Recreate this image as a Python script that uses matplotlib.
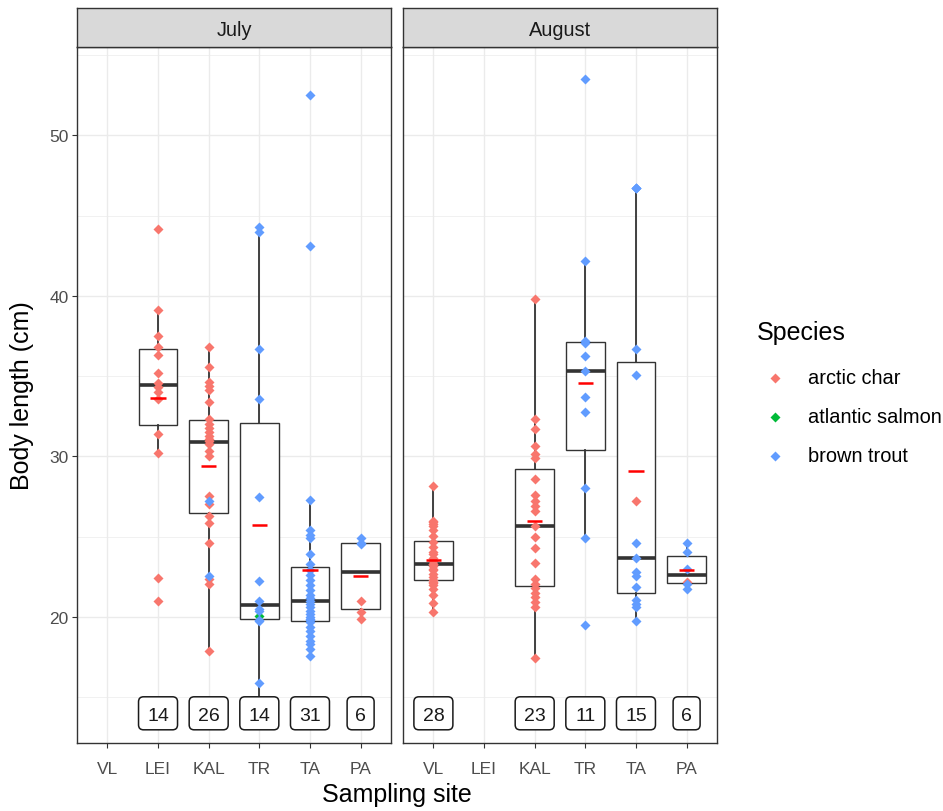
import numpy as np
import matplotlib
matplotlib.use("Agg")
import matplotlib.pyplot as plt
from matplotlib import cbook
from matplotlib import transforms as mtransforms
from matplotlib.patches import FancyBboxPatch
from matplotlib.lines import Line2D
from matplotlib.ticker import MultipleLocator

plt.rcParams['font.family'] = ['Liberation Sans', 'DejaVu Sans']

sites = ["VL", "LEI", "KAL", "TR", "TA", "PA"]
months = ["July", "August"]
species = ["arctic char", "atlantic salmon", "brown trout"]
species_colors = ["#F8766D", "#00BA38", "#619CFF"]

# Body length (cm) of individual fish, by month, site and species
jul_lei_char = [44.2, 39.1, 37.5, 36.8, 36.3, 35.2, 34.6, 34.3, 34.0, 33.6,
                31.4, 30.2, 22.4, 21.0]
jul_kal_char = [36.8, 35.56, 34.62, 34.37, 34.14, 33.42, 32.34, 32.03, 31.76,
                31.5, 31.26, 31.1, 30.95, 30.8, 30.36, 30.05, 27.56, 27.04,
                26.3, 25.86, 24.61, 22.37, 22.06, 17.9]
jul_kal_trout = [27.25, 22.54]
jul_tr_salmon = [20.05]
jul_tr_trout = [44.3, 44.0, 36.7, 33.6, 27.46, 22.26, 21.0, 20.5, 20.4, 19.8,
                19.75, 15.9, 14.1]
jul_ta_trout = [52.5, 43.1, 27.3, 25.4, 25.1, 24.9, 23.9, 23.3, 22.9, 22.6,
                22.3, 22.0, 21.7, 21.4, 21.2, 21.0, 20.8, 20.6, 20.4, 20.2,
                20.0, 19.9, 19.8, 19.7, 19.4, 19.1, 18.8, 18.5, 18.3, 18.0, 17.6]
jul_pa_char = [21.0, 20.3, 19.9]
jul_pa_trout = [24.9, 24.62, 24.56]

aug_vl_char = [28.18, 26.0, 25.94, 25.8, 25.7, 25.4, 25.07, 24.65, 24.34,
               24.03, 23.9, 23.7, 23.5, 23.3, 23.3, 23.2, 23.0, 22.9, 22.7,
               22.5, 22.3, 22.2, 22.1, 22.0, 21.74, 21.4, 20.9, 20.3]
aug_kal_char = [39.81, 32.34, 31.7, 30.67, 30.16, 29.9, 28.6, 27.6, 27.25,
                26.94, 26.62, 25.65, 24.97, 24.3, 23.35, 22.37, 22.06, 21.79,
                21.5, 21.23, 20.92, 20.6, 17.43]
aug_tr_trout = [53.5, 42.2, 37.2, 37.1, 36.28, 35.35, 33.7, 32.8, 28.04,
                24.9, 19.5]
aug_ta_char = [27.25]
aug_ta_trout = [46.7, 46.7, 46.7, 36.7, 35.1, 24.6, 23.7, 22.78, 22.53, 21.85,
                21.08, 20.8, 20.6, 19.77]
aug_pa_char = [22.2]
aug_pa_trout = [24.6, 24.07, 23.0, 22.06, 21.74]

# (month, site) -> {species: values}
groups = {
    ("July", "LEI"): {"arctic char": jul_lei_char},
    ("July", "KAL"): {"arctic char": jul_kal_char, "brown trout": jul_kal_trout},
    ("July", "TR"): {"atlantic salmon": jul_tr_salmon, "brown trout": jul_tr_trout},
    ("July", "TA"): {"brown trout": jul_ta_trout},
    ("July", "PA"): {"arctic char": jul_pa_char, "brown trout": jul_pa_trout},
    ("August", "VL"): {"arctic char": aug_vl_char},
    ("August", "KAL"): {"arctic char": aug_kal_char},
    ("August", "TR"): {"brown trout": aug_tr_trout},
    ("August", "TA"): {"arctic char": aug_ta_char, "brown trout": aug_ta_trout},
    ("August", "PA"): {"arctic char": aug_pa_char, "brown trout": aug_pa_trout},
}

label_y = 14.0
y_limits = (12.15, 55.51)

W, H = 943, 812
fig = plt.figure(figsize=(W / 100, H / 100), dpi=100)
fig.patch.set_facecolor("white")

panel_left = [77, 403]
panel_w = 314
panel_top, panel_bottom = 48, 744
strip_top = 9

dark = "#333333"
grid_col = "#EBEBEB"
marker_size = 5.6

for m_i, month in enumerate(months):
    x0 = panel_left[m_i]
    ax = fig.add_axes([x0 / W, (H - panel_bottom) / H, panel_w / W,
                       (panel_bottom - panel_top) / H])

    for s_i, site in enumerate(sites):
        grp = groups.get((month, site))
        if not grp:
            continue
        allv = np.concatenate([np.asarray(v, float) for v in grp.values()])
        st = cbook.boxplot_stats(allv, whis=1.5)
        ax.bxp(st, positions=[s_i], widths=0.76, showfliers=False,
               showcaps=False, patch_artist=True, manage_ticks=False,
               boxprops=dict(facecolor="white", edgecolor=dark, lw=1.0),
               whiskerprops=dict(color=dark, lw=1.3),
               medianprops=dict(color=dark, lw=2.6, solid_capstyle="butt"),
               zorder=2)
        for sp_name, col in zip(species, species_colors):
            if sp_name in grp:
                vals = grp[sp_name]
                ax.plot([s_i] * len(vals), vals, ls="none", marker="D",
                        ms=marker_size, mfc=col, mec="none", zorder=3)
        ax.hlines(allv.mean(), s_i - 0.15, s_i + 0.15, color="#FF0000",
                  lw=1.8, zorder=4)

        # sample size label
        n_txt = str(len(allv))
        bw = 0.39 if len(n_txt) > 1 else 0.27
        bh = 0.33
        tr = fig.dpi_scale_trans + mtransforms.ScaledTranslation(
            s_i, label_y, ax.transData)
        box = FancyBboxPatch((-bw / 2, -bh / 2), bw, bh,
                             boxstyle="round,pad=0,rounding_size=0.05",
                             transform=tr, facecolor="white",
                             edgecolor="#1A1A1A", lw=1.1, zorder=5,
                             clip_on=False)
        ax.add_patch(box)
        ax.text(s_i, label_y, n_txt, ha="center", va="center_baseline",
                fontsize=14, color="#1A1A1A", zorder=6)

    ax.set_xlim(-0.6, len(sites) - 0.4)
    ax.set_ylim(*y_limits)
    ax.set_xticks(range(len(sites)))
    ax.set_xticklabels(sites)
    ax.yaxis.set_major_locator(MultipleLocator(10))
    ax.yaxis.set_minor_locator(MultipleLocator(5))
    ax.grid(True, which="major", color=grid_col, lw=1.0, zorder=0)
    ax.grid(True, which="minor", axis="y", color=grid_col, lw=0.5, zorder=0)
    ax.set_axisbelow(True)
    for sp in ax.spines.values():
        sp.set_color(dark)
        sp.set_linewidth(1.0)
    ax.tick_params(axis="both", which="major", color=dark, length=3.5,
                   width=0.8, labelcolor="#4D4D4D", labelsize=12.5, pad=2.5)
    ax.tick_params(axis="x", which="major", pad=9.5)
    ax.tick_params(axis="y", which="minor", length=0)
    if m_i > 0:
        ax.tick_params(axis="y", which="both", left=False, labelleft=False)

    # facet strip
    sax = fig.add_axes([x0 / W, (H - panel_top) / H, panel_w / W,
                        (panel_top - strip_top) / H])
    sax.set_facecolor("#D9D9D9")
    sax.set_xticks([])
    sax.set_yticks([])
    for sp in sax.spines.values():
        sp.set_color(dark)
        sp.set_linewidth(1.0)
    sax.text(0.5, 0.46, month, ha="center", va="center", fontsize=14.4,
             color="#1A1A1A", transform=sax.transAxes)

# axis titles
fig.text(22 / W, 1 - 396 / H, "Body length (cm)", rotation=90,
         ha="center", va="center", fontsize=18, color="black")
fig.text(397 / W, 1 - 795 / H, "Sampling site", ha="center", va="center",
         fontsize=18, color="black")

# legend
fig.text(757 / W, 1 - 333 / H, "Species", ha="left", va="center",
         fontsize=18, color="black")
for k, (sp_name, col) in enumerate(zip(species, species_colors)):
    yy = 1 - (379 + 39 * k) / H
    fig.add_artist(Line2D([775 / W], [yy], transform=fig.transFigure,
                          ls="none", marker="D", ms=marker_size * 0.9,
                          mfc=col, mec="none"))
    fig.text(808 / W, yy, sp_name, ha="left", va="center", fontsize=14.4,
             color="black")

fig.savefig("out.png", dpi=100, facecolor="white")
